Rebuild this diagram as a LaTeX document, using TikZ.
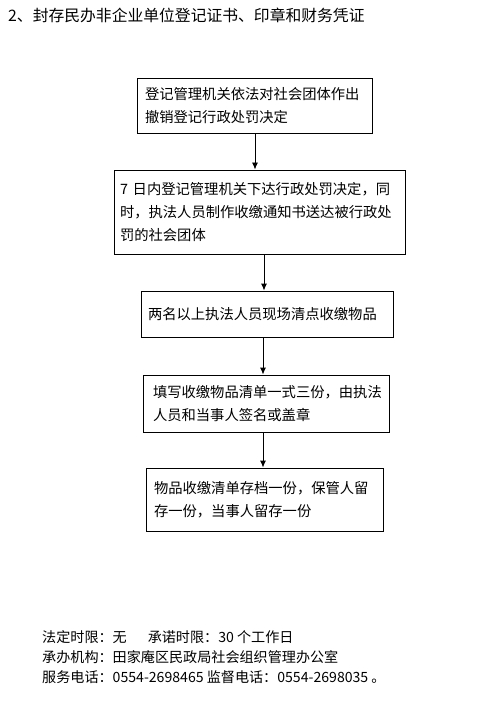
\documentclass[tikz,border=0pt]{standalone}
\usepackage{fontspec}
\setmainfont{Noto Sans CJK SC}
\usetikzlibrary{arrows.meta}
\tikzset{
  stepbox/.style={draw=black, line width=0.9pt, align=left, inner ysep=0pt,
    font=\fontsize{14.3}{23}\selectfont},
  flow/.style={draw=black, line width=0.9pt, -{Latex[length=7pt,width=6pt]}},
  plain/.style={inner sep=0pt, anchor=west, align=left}
}
\begin{document}
\begin{tikzpicture}[x=1pt,y=-1pt]
\useasboundingbox[fill=white] (0,0) rectangle (481,703);
\node[plain, font=\fontsize{15.8}{18}\selectfont] (title) at (8,15) {2、封存民办非企业单位登记证书、印章和财务凭证};
\node[stepbox, minimum width=235, minimum height=55, text width=219, inner xsep=8] (b1) at (254.5,105.5)
  {登记管理机关依法对社会团体作出\\撤销登记行政处罚决定};
\node[stepbox, minimum width=291, minimum height=84, text width=279, inner xsep=6] (b2) at (259.5,212)
  {7 日内登记管理机关下达行政处罚决定，同\\时，执法人员制作收缴通知书送达被行政处\\罚的社会团体};
\node[stepbox, minimum width=252, minimum height=46, text width=238, inner xsep=7] (b3) at (267,314)
  {两名以上执法人员现场清点收缴物品};
\node[stepbox, minimum width=246, minimum height=57, text width=226, inner xsep=10] (b4) at (266,403.5)
  {填写收缴物品清单一式三份，由执法\\人员和当事人签名或盖章};
\node[stepbox, minimum width=237, minimum height=63, text width=221, inner xsep=8] (b5) at (264.5,499.5)
  {物品收缴清单存档一份，保管人留\\存一份，当事人留存一份};
\draw[flow] (b1.south -| 255,0) -- (b2.north -| 255,0);
\draw[flow] (b2.south -| 264,0) -- (b3.north -| 264,0);
\draw[flow] (b3.south -| 263,0) -- (b4.north -| 263,0);
\draw[flow] (b4.south -| 263,0) -- (b5.north -| 263,0);
\node[plain, font=\fontsize{14.1}{20}\selectfont] (foot) at (42,657)
  {法定时限：无\hspace{21pt}承诺时限：30 个工作日\\
   承办机构：田家庵区民政局社会组织管理办公室\\
   服务电话：0554-2698465 监督电话：0554-2698035 。};
\end{tikzpicture}
\end{document}
